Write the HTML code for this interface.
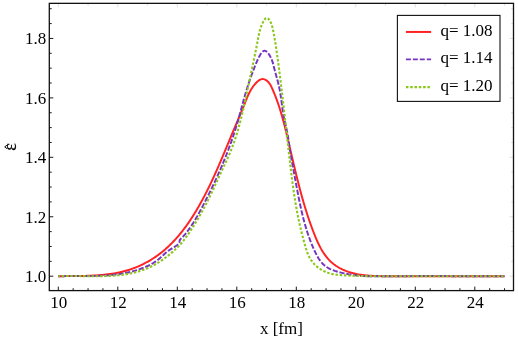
<!DOCTYPE html>
<html><head><meta charset="utf-8"><title>plot</title>
<style>
html,body{margin:0;padding:0;background:#fff;}
body{width:518px;height:339px;overflow:hidden;}
svg{display:block;will-change:transform;}
text{font-family:"Liberation Serif",serif;fill:#000;}
</style></head><body>
<svg width="518" height="339" viewBox="0 0 518 339">
<rect width="518" height="339" fill="#fff"/>
<g fill="none" stroke-linejoin="round">
<path d="M58.30 276.25 L59.27 276.24 L60.23 276.22 L61.20 276.20 L62.17 276.19 L63.14 276.17 L64.12 276.16 L65.09 276.15 L66.07 276.14 L67.04 276.13 L68.02 276.12 L69.00 276.11 L69.98 276.10 L70.96 276.09 L71.95 276.08 L72.93 276.07 L73.92 276.06 L74.90 276.05 L75.89 276.04 L76.88 276.02 L77.87 276.01 L78.86 276.00 L79.85 275.98 L80.84 275.96 L81.83 275.95 L82.82 275.92 L83.81 275.90 L84.80 275.88 L85.79 275.85 L86.79 275.82 L87.78 275.79 L88.77 275.75 L89.76 275.71 L90.75 275.67 L91.75 275.63 L92.74 275.58 L93.73 275.53 L94.72 275.47 L95.71 275.42 L96.70 275.35 L97.69 275.28 L98.68 275.21 L99.66 275.14 L100.65 275.06 L101.64 274.97 L102.62 274.88 L103.61 274.78 L104.59 274.68 L105.57 274.57 L106.55 274.46 L107.53 274.34 L108.51 274.22 L109.49 274.09 L110.47 273.95 L111.44 273.81 L112.41 273.66 L113.38 273.50 L114.35 273.34 L115.32 273.17 L116.29 272.99 L117.25 272.80 L118.21 272.61 L119.17 272.41 L120.13 272.20 L121.08 271.99 L122.04 271.76 L122.99 271.53 L123.94 271.29 L124.88 271.04 L125.83 270.78 L126.77 270.51 L127.71 270.23 L128.64 269.95 L129.58 269.65 L130.51 269.34 L131.44 269.03 L132.36 268.70 L133.28 268.37 L134.20 268.02 L135.12 267.67 L136.03 267.31 L136.94 266.94 L137.84 266.56 L138.74 266.17 L139.64 265.77 L140.54 265.36 L141.43 264.94 L142.31 264.52 L143.19 264.08 L144.07 263.64 L144.95 263.19 L145.82 262.73 L146.68 262.26 L147.54 261.79 L148.40 261.30 L149.25 260.81 L150.09 260.31 L150.94 259.80 L151.77 259.29 L152.60 258.76 L153.43 258.23 L154.25 257.69 L155.07 257.14 L155.88 256.59 L156.68 256.03 L157.48 255.46 L158.28 254.88 L159.06 254.30 L159.85 253.71 L160.62 253.11 L161.39 252.50 L162.16 251.89 L162.91 251.27 L163.67 250.65 L164.41 250.01 L165.16 249.38 L165.89 248.73 L166.62 248.08 L167.35 247.42 L168.07 246.76 L168.78 246.09 L169.49 245.41 L170.19 244.73 L170.89 244.05 L171.58 243.35 L172.27 242.65 L172.95 241.95 L173.63 241.24 L174.30 240.53 L174.96 239.81 L175.62 239.08 L176.28 238.35 L176.93 237.62 L177.58 236.88 L178.22 236.13 L178.86 235.38 L179.49 234.63 L180.12 233.87 L180.74 233.11 L181.36 232.34 L181.97 231.57 L182.58 230.79 L183.18 230.01 L183.78 229.23 L184.38 228.44 L184.97 227.65 L185.56 226.85 L186.14 226.06 L186.72 225.25 L187.29 224.45 L187.86 223.64 L188.43 222.83 L188.99 222.01 L189.55 221.19 L190.10 220.37 L190.65 219.55 L191.19 218.72 L191.74 217.89 L192.27 217.06 L192.81 216.22 L193.34 215.38 L193.87 214.54 L194.39 213.70 L194.91 212.86 L195.42 212.01 L195.94 211.16 L196.44 210.31 L196.95 209.46 L197.45 208.61 L197.95 207.75 L198.45 206.90 L198.94 206.04 L199.43 205.18 L199.91 204.32 L200.40 203.46 L200.88 202.59 L201.35 201.73 L201.82 200.86 L202.30 199.99 L202.76 199.13 L203.23 198.26 L203.69 197.39 L204.15 196.52 L204.61 195.64 L205.06 194.77 L205.51 193.89 L205.96 193.02 L206.40 192.14 L206.85 191.26 L207.29 190.39 L207.73 189.51 L208.16 188.63 L208.60 187.74 L209.03 186.86 L209.46 185.98 L209.89 185.09 L210.31 184.21 L210.73 183.32 L211.16 182.44 L211.57 181.55 L211.99 180.66 L212.41 179.77 L212.82 178.88 L213.23 177.99 L213.64 177.10 L214.05 176.20 L214.45 175.31 L214.86 174.42 L215.26 173.52 L215.66 172.63 L216.06 171.73 L216.46 170.84 L216.86 169.94 L217.26 169.04 L217.65 168.14 L218.04 167.24 L218.44 166.35 L218.83 165.45 L219.22 164.55 L219.60 163.64 L219.99 162.74 L220.38 161.84 L220.76 160.94 L221.15 160.04 L221.53 159.13 L221.92 158.23 L222.30 157.33 L222.68 156.42 L223.06 155.52 L223.44 154.61 L223.82 153.71 L224.20 152.80 L224.58 151.90 L224.96 150.99 L225.34 150.08 L225.71 149.18 L226.09 148.27 L226.47 147.36 L226.84 146.46 L227.22 145.55 L227.60 144.64 L227.97 143.73 L228.35 142.82 L228.73 141.92 L229.10 141.01 L229.48 140.10 L229.85 139.19 L230.23 138.28 L230.61 137.38 L230.99 136.47 L231.36 135.56 L231.74 134.65 L232.12 133.74 L232.50 132.84 L232.88 131.93 L233.26 131.02 L233.64 130.11 L234.02 129.20 L234.40 128.30 L234.78 127.39 L235.17 126.48 L235.55 125.58 L235.94 124.67 L236.32 123.76 L236.71 122.86 L237.10 121.95 L237.48 121.04 L237.87 120.14 L238.26 119.23 L238.64 118.33 L239.03 117.42 L239.42 116.51 L239.80 115.61 L240.19 114.70 L240.57 113.79 L240.95 112.89 L241.33 111.98 L241.71 111.07 L242.08 110.17 L242.46 109.26 L242.83 108.35 L243.20 107.44 L243.56 106.53 L243.93 105.62 L244.29 104.72 L244.64 103.81 L245.00 102.89 L245.35 101.98 L245.71 101.08 L246.06 100.17 L246.43 99.26 L246.80 98.35 L247.17 97.45 L247.56 96.55 L247.95 95.65 L248.36 94.75 L248.78 93.86 L249.22 92.96 L249.67 92.08 L250.14 91.20 L250.64 90.32 L251.15 89.45 L251.69 88.58 L252.25 87.72 L252.84 86.86 L253.46 86.01 L254.11 85.17 L254.79 84.33 L255.50 83.51 L256.23 82.73 L256.99 81.98 L257.77 81.29 L258.57 80.67 L259.38 80.13 L260.20 79.69 L261.03 79.36 L261.87 79.15 L262.71 79.07 L263.55 79.14 L264.38 79.34 L265.20 79.67 L266.00 80.12 L266.78 80.66 L267.53 81.30 L268.25 82.01 L268.92 82.78 L269.55 83.60 L270.13 84.46 L270.65 85.35 L271.13 86.26 L271.57 87.18 L271.99 88.10 L272.40 89.02 L272.81 89.95 L273.21 90.87 L273.61 91.79 L274.00 92.72 L274.38 93.65 L274.75 94.57 L275.12 95.50 L275.49 96.43 L275.84 97.35 L276.20 98.28 L276.54 99.21 L276.88 100.14 L277.22 101.07 L277.55 102.00 L277.88 102.93 L278.20 103.86 L278.51 104.79 L278.82 105.72 L279.13 106.65 L279.43 107.58 L279.73 108.52 L280.02 109.45 L280.31 110.38 L280.60 111.32 L280.88 112.25 L281.16 113.19 L281.43 114.12 L281.70 115.06 L281.97 115.99 L282.23 116.93 L282.49 117.87 L282.75 118.80 L283.01 119.74 L283.26 120.68 L283.51 121.62 L283.76 122.56 L284.01 123.50 L284.25 124.44 L284.49 125.38 L284.73 126.32 L284.97 127.26 L285.20 128.20 L285.44 129.14 L285.67 130.09 L285.90 131.03 L286.13 131.97 L286.36 132.92 L286.59 133.86 L286.82 134.81 L287.05 135.75 L287.28 136.70 L287.50 137.64 L287.73 138.59 L287.95 139.53 L288.18 140.48 L288.40 141.43 L288.62 142.38 L288.85 143.32 L289.07 144.27 L289.29 145.22 L289.52 146.17 L289.74 147.12 L289.96 148.07 L290.18 149.02 L290.40 149.97 L290.62 150.92 L290.85 151.87 L291.07 152.82 L291.29 153.77 L291.51 154.72 L291.73 155.67 L291.95 156.62 L292.18 157.57 L292.40 158.52 L292.62 159.47 L292.84 160.42 L293.07 161.37 L293.29 162.33 L293.51 163.28 L293.74 164.23 L293.96 165.18 L294.19 166.13 L294.42 167.09 L294.64 168.04 L294.87 168.99 L295.10 169.94 L295.33 170.89 L295.56 171.84 L295.79 172.80 L296.02 173.75 L296.25 174.70 L296.48 175.65 L296.72 176.60 L296.95 177.55 L297.19 178.50 L297.42 179.46 L297.66 180.41 L297.90 181.36 L298.14 182.31 L298.38 183.26 L298.62 184.21 L298.87 185.16 L299.11 186.11 L299.36 187.06 L299.61 188.01 L299.86 188.96 L300.11 189.91 L300.36 190.85 L300.61 191.80 L300.87 192.75 L301.13 193.70 L301.39 194.65 L301.65 195.59 L301.91 196.54 L302.17 197.49 L302.44 198.43 L302.71 199.38 L302.98 200.32 L303.25 201.27 L303.52 202.21 L303.80 203.16 L304.07 204.10 L304.35 205.05 L304.64 205.99 L304.92 206.93 L305.21 207.87 L305.49 208.81 L305.79 209.75 L306.08 210.70 L306.37 211.64 L306.67 212.57 L306.97 213.51 L307.27 214.45 L307.58 215.39 L307.89 216.33 L308.20 217.26 L308.51 218.20 L308.82 219.13 L309.14 220.07 L309.46 221.00 L309.79 221.94 L310.11 222.87 L310.44 223.80 L310.77 224.73 L311.11 225.66 L311.45 226.59 L311.79 227.52 L312.13 228.45 L312.48 229.38 L312.83 230.31 L313.18 231.23 L313.54 232.16 L313.90 233.08 L314.26 234.01 L314.63 234.93 L315.00 235.85 L315.37 236.77 L315.75 237.69 L316.14 238.60 L316.53 239.52 L316.92 240.42 L317.32 241.33 L317.73 242.23 L318.15 243.12 L318.57 244.01 L319.00 244.90 L319.44 245.77 L319.89 246.65 L320.35 247.51 L320.81 248.37 L321.29 249.22 L321.77 250.06 L322.27 250.89 L322.78 251.72 L323.30 252.53 L323.83 253.34 L324.37 254.13 L324.93 254.92 L325.50 255.69 L326.08 256.45 L326.67 257.20 L327.28 257.94 L327.91 258.67 L328.55 259.38 L329.20 260.08 L329.87 260.77 L330.56 261.44 L331.26 262.09 L331.98 262.73 L332.72 263.36 L333.47 263.97 L334.24 264.56 L335.04 265.14 L335.84 265.70 L336.67 266.24 L337.51 266.77 L338.36 267.28 L339.23 267.78 L340.11 268.26 L341.00 268.72 L341.90 269.17 L342.81 269.60 L343.74 270.01 L344.67 270.41 L345.61 270.79 L346.55 271.16 L347.51 271.51 L348.46 271.85 L349.43 272.17 L350.39 272.47 L351.36 272.76 L352.33 273.03 L353.30 273.29 L354.28 273.53 L355.25 273.76 L356.22 273.97 L357.19 274.17 L358.16 274.35 L359.13 274.53 L360.10 274.68 L361.07 274.83 L362.03 274.96 L363.00 275.09 L363.97 275.20 L364.93 275.31 L365.90 275.40 L366.87 275.49 L367.84 275.57 L368.80 275.64 L369.77 275.70 L370.74 275.76 L371.71 275.82 L372.68 275.86 L373.64 275.91 L374.62 275.95 L375.59 275.99 L376.56 276.02 L377.53 276.06 L378.51 276.09 L379.48 276.12 L380.46 276.15 L381.43 276.17 L382.41 276.20 L383.39 276.22 L384.37 276.24 L385.35 276.25 L386.33 276.25 L387.31 276.25 L388.29 276.25 L389.27 276.25 L390.25 276.25 L391.24 276.25 L392.22 276.25 L393.21 276.25 L394.19 276.25 L395.18 276.25 L396.16 276.25 L397.15 276.25 L398.13 276.25 L399.12 276.25 L400.11 276.25 L401.10 276.25 L402.08 276.25 L403.07 276.25 L404.06 276.25 L405.05 276.25 L406.04 276.25 L407.03 276.25 L408.02 276.25 L409.01 276.25 L410.00 276.25 L410.98 276.25 L411.97 276.25 L412.96 276.25 L413.95 276.25 L414.94 276.25 L415.93 276.25 L416.92 276.25 L417.91 276.25 L418.90 276.25 L419.89 276.25 L420.88 276.25 L421.86 276.24 L422.85 276.24 L423.84 276.23 L424.83 276.22 L425.81 276.22 L426.80 276.21 L427.79 276.21 L428.77 276.21 L429.76 276.20 L430.74 276.20 L431.73 276.20 L432.72 276.20 L433.70 276.19 L434.69 276.19 L435.67 276.19 L436.65 276.19 L437.64 276.19 L438.62 276.19 L439.61 276.19 L440.59 276.19 L441.57 276.19 L442.56 276.19 L443.54 276.19 L444.52 276.19 L445.50 276.19 L446.49 276.20 L447.47 276.20 L448.45 276.20 L449.43 276.20 L450.42 276.20 L451.40 276.21 L452.38 276.21 L453.36 276.21 L454.34 276.21 L455.32 276.22 L456.31 276.22 L457.29 276.22 L458.27 276.23 L459.25 276.23 L460.23 276.23 L461.21 276.24 L462.19 276.24 L463.18 276.24 L464.16 276.25 L465.14 276.25 L466.12 276.25 L467.10 276.25 L468.08 276.25 L469.07 276.25 L470.05 276.25 L471.03 276.25 L472.01 276.25 L472.99 276.25 L473.97 276.25 L474.96 276.25 L475.94 276.25 L476.92 276.25 L477.90 276.25 L478.89 276.25 L479.87 276.25 L480.85 276.25 L481.83 276.25 L482.82 276.25 L483.80 276.25 L484.78 276.25 L485.77 276.25 L486.75 276.25 L487.73 276.25 L488.72 276.25 L489.70 276.25 L490.69 276.25 L491.67 276.25 L492.66 276.25 L493.64 276.25 L494.63 276.25 L495.62 276.25 L496.60 276.25 L497.59 276.25 L498.57 276.25 L499.56 276.25 L500.55 276.25 L501.54 276.25 L502.52 276.25 L503.51 276.25 L504.50 276.25" stroke="#ff2222" stroke-width="1.95"/>
<path d="M58.30 276.25 L59.37 276.23 L60.43 276.21 L61.50 276.19 L62.57 276.17 L63.64 276.16 L64.71 276.15 L65.78 276.14 L66.85 276.13 L67.93 276.13 L69.00 276.13 L70.08 276.12 L71.15 276.12 L72.23 276.12 L73.31 276.12 L74.39 276.12 L75.47 276.12 L76.55 276.13 L77.63 276.13 L78.71 276.13 L79.79 276.13 L80.87 276.13 L81.96 276.13 L83.04 276.13 L84.12 276.12 L85.20 276.12 L86.29 276.11 L87.37 276.10 L88.45 276.09 L89.54 276.08 L90.62 276.07 L91.70 276.05 L92.79 276.03 L93.87 276.00 L94.95 275.98 L96.03 275.95 L97.11 275.91 L98.20 275.88 L99.28 275.83 L100.36 275.79 L101.43 275.74 L102.51 275.68 L103.59 275.62 L104.67 275.56 L105.74 275.49 L106.82 275.41 L107.89 275.33 L108.97 275.24 L110.04 275.15 L111.11 275.05 L112.18 274.94 L113.25 274.83 L114.32 274.71 L115.38 274.58 L116.45 274.45 L117.51 274.31 L118.58 274.16 L119.64 274.00 L120.70 273.84 L121.75 273.66 L122.81 273.48 L123.86 273.29 L124.91 273.09 L125.96 272.89 L127.01 272.67 L128.06 272.44 L129.10 272.21 L130.15 271.96 L131.19 271.70 L132.23 271.44 L133.26 271.16 L134.30 270.87 L135.33 270.57 L136.36 270.26 L137.38 269.94 L138.41 269.61 L139.43 269.27 L140.45 268.91 L141.46 268.54 L142.48 268.16 L143.48 267.77 L144.49 267.37 L145.48 266.95 L146.47 266.51 L147.46 266.06 L148.43 265.60 L149.40 265.12 L150.35 264.63 L151.30 264.12 L152.23 263.60 L153.16 263.06 L154.06 262.50 L154.96 261.93 L155.84 261.33 L156.71 260.72 L157.56 260.09 L158.39 259.45 L159.21 258.78 L160.01 258.10 L160.79 257.39 L161.57 256.68 L162.34 255.95 L163.12 255.22 L163.91 254.49 L164.71 253.75 L165.53 253.02 L166.37 252.30 L167.25 251.59 L168.17 250.89 L169.12 250.21 L170.13 249.55 L171.17 248.91 L172.22 248.29 L173.27 247.67 L174.30 247.05 L175.29 246.44 L176.21 245.81 L177.06 245.18 L177.81 244.53 L178.45 243.85 L178.95 243.15 L179.29 242.42 L179.47 241.66 L179.55 240.87 L179.79 240.11 L180.27 239.40 L180.91 238.71 L181.61 238.01 L182.30 237.30 L182.99 236.58 L183.66 235.84 L184.33 235.09 L185.00 234.32 L185.65 233.53 L186.31 232.74 L186.95 231.93 L187.59 231.10 L188.22 230.27 L188.84 229.42 L189.46 228.57 L190.07 227.70 L190.68 226.82 L191.28 225.93 L191.88 225.04 L192.47 224.13 L193.06 223.22 L193.64 222.29 L194.21 221.36 L194.78 220.43 L195.35 219.49 L195.91 218.54 L196.47 217.58 L197.02 216.62 L197.57 215.66 L198.12 214.69 L198.66 213.72 L199.20 212.75 L199.73 211.77 L200.26 210.79 L200.79 209.81 L201.31 208.83 L201.83 207.85 L202.35 206.87 L202.86 205.88 L203.38 204.90 L203.89 203.92 L204.39 202.94 L204.90 201.96 L205.40 200.99 L205.90 200.01 L206.40 199.03 L206.89 198.06 L207.39 197.08 L207.88 196.11 L208.36 195.14 L208.85 194.16 L209.33 193.19 L209.81 192.22 L210.29 191.25 L210.76 190.28 L211.23 189.31 L211.71 188.33 L212.17 187.36 L212.64 186.39 L213.10 185.42 L213.56 184.45 L214.02 183.48 L214.48 182.51 L214.93 181.54 L215.38 180.56 L215.83 179.59 L216.28 178.62 L216.72 177.65 L217.16 176.67 L217.60 175.70 L218.04 174.72 L218.47 173.75 L218.91 172.77 L219.34 171.79 L219.76 170.82 L220.19 169.84 L220.61 168.86 L221.03 167.87 L221.45 166.89 L221.87 165.91 L222.29 164.92 L222.70 163.94 L223.11 162.95 L223.52 161.96 L223.92 160.97 L224.33 159.98 L224.73 158.99 L225.13 157.99 L225.52 157.00 L225.92 156.00 L226.31 155.00 L226.70 154.00 L227.09 152.99 L227.48 151.99 L227.86 150.98 L228.24 149.97 L228.62 148.97 L228.99 147.96 L229.37 146.94 L229.74 145.93 L230.11 144.92 L230.47 143.90 L230.84 142.89 L231.20 141.87 L231.56 140.85 L231.91 139.83 L232.27 138.81 L232.62 137.79 L232.96 136.76 L233.31 135.74 L233.65 134.72 L233.99 133.69 L234.32 132.67 L234.66 131.64 L234.98 130.61 L235.31 129.58 L235.63 128.56 L235.95 127.53 L236.27 126.50 L236.59 125.47 L236.90 124.44 L237.20 123.41 L237.51 122.37 L237.81 121.34 L238.11 120.31 L238.40 119.28 L238.69 118.25 L238.98 117.21 L239.27 116.18 L239.55 115.15 L239.83 114.11 L240.11 113.08 L240.39 112.05 L240.67 111.01 L240.95 109.98 L241.23 108.94 L241.50 107.91 L241.78 106.87 L242.06 105.84 L242.34 104.80 L242.62 103.77 L242.90 102.73 L243.18 101.70 L243.46 100.66 L243.74 99.63 L244.03 98.59 L244.32 97.56 L244.61 96.52 L244.91 95.49 L245.21 94.45 L245.51 93.42 L245.82 92.38 L246.13 91.34 L246.44 90.31 L246.76 89.27 L247.09 88.24 L247.42 87.20 L247.75 86.17 L248.09 85.14 L248.43 84.10 L248.78 83.07 L249.13 82.04 L249.49 81.02 L249.84 79.99 L250.20 78.97 L250.56 77.96 L250.92 76.94 L251.29 75.94 L251.65 74.93 L252.02 73.93 L252.38 72.94 L252.75 71.96 L253.12 70.98 L253.48 70.00 L253.84 69.04 L254.20 68.08 L254.57 67.13 L254.93 66.18 L255.31 65.22 L255.69 64.27 L256.09 63.30 L256.51 62.32 L256.95 61.32 L257.41 60.31 L257.90 59.27 L258.42 58.21 L258.98 57.11 L259.58 55.99 L260.21 54.86 L260.88 53.78 L261.58 52.79 L262.31 51.93 L263.06 51.27 L263.84 50.84 L264.63 50.70 L265.44 50.87 L266.25 51.30 L267.05 51.96 L267.83 52.81 L268.59 53.79 L269.30 54.86 L269.96 55.98 L270.56 57.11 L271.09 58.21 L271.57 59.28 L271.98 60.33 L272.36 61.37 L272.69 62.39 L272.99 63.39 L273.26 64.39 L273.52 65.38 L273.76 66.38 L274.00 67.37 L274.24 68.36 L274.49 69.36 L274.75 70.38 L275.02 71.39 L275.30 72.42 L275.59 73.45 L275.88 74.48 L276.17 75.52 L276.46 76.57 L276.76 77.62 L277.05 78.67 L277.34 79.73 L277.62 80.79 L277.90 81.85 L278.17 82.91 L278.43 83.97 L278.69 85.04 L278.93 86.10 L279.16 87.16 L279.37 88.22 L279.58 89.28 L279.78 90.35 L279.97 91.41 L280.16 92.47 L280.33 93.53 L280.50 94.58 L280.67 95.64 L280.83 96.70 L280.98 97.76 L281.13 98.81 L281.28 99.87 L281.42 100.92 L281.57 101.97 L281.71 103.02 L281.85 104.07 L281.99 105.12 L282.13 106.17 L282.28 107.22 L282.42 108.26 L282.57 109.31 L282.73 110.35 L282.89 111.39 L283.05 112.43 L283.22 113.47 L283.39 114.50 L283.57 115.54 L283.76 116.57 L283.96 117.60 L284.17 118.63 L284.38 119.66 L284.60 120.68 L284.83 121.71 L285.06 122.73 L285.30 123.76 L285.53 124.78 L285.77 125.81 L286.01 126.83 L286.24 127.86 L286.47 128.89 L286.70 129.91 L286.93 130.95 L287.14 131.98 L287.35 133.02 L287.55 134.05 L287.74 135.10 L287.93 136.14 L288.10 137.19 L288.26 138.24 L288.42 139.29 L288.58 140.34 L288.73 141.40 L288.87 142.45 L289.02 143.51 L289.16 144.57 L289.30 145.62 L289.44 146.68 L289.59 147.73 L289.73 148.79 L289.89 149.84 L290.04 150.89 L290.20 151.94 L290.37 152.99 L290.54 154.03 L290.72 155.07 L290.90 156.11 L291.09 157.15 L291.27 158.19 L291.47 159.23 L291.66 160.27 L291.85 161.31 L292.05 162.34 L292.25 163.38 L292.45 164.42 L292.64 165.46 L292.84 166.50 L293.04 167.54 L293.24 168.58 L293.43 169.62 L293.63 170.66 L293.82 171.70 L294.02 172.75 L294.21 173.79 L294.41 174.84 L294.60 175.89 L294.79 176.93 L294.98 177.98 L295.18 179.03 L295.37 180.08 L295.56 181.13 L295.76 182.18 L295.95 183.23 L296.14 184.28 L296.34 185.33 L296.53 186.38 L296.73 187.43 L296.93 188.48 L297.12 189.53 L297.32 190.58 L297.52 191.63 L297.72 192.68 L297.93 193.73 L298.13 194.78 L298.34 195.83 L298.54 196.87 L298.75 197.92 L298.96 198.97 L299.18 200.02 L299.39 201.06 L299.61 202.11 L299.83 203.15 L300.05 204.20 L300.27 205.24 L300.50 206.28 L300.72 207.32 L300.96 208.36 L301.19 209.40 L301.43 210.44 L301.67 211.48 L301.91 212.51 L302.15 213.55 L302.40 214.58 L302.66 215.61 L302.91 216.64 L303.17 217.67 L303.43 218.70 L303.70 219.73 L303.97 220.75 L304.25 221.77 L304.52 222.79 L304.81 223.82 L305.10 224.84 L305.39 225.85 L305.69 226.87 L305.99 227.89 L306.30 228.90 L306.61 229.92 L306.93 230.93 L307.26 231.95 L307.59 232.96 L307.92 233.97 L308.27 234.99 L308.62 236.00 L308.97 237.01 L309.34 238.02 L309.71 239.03 L310.08 240.04 L310.47 241.05 L310.86 242.06 L311.26 243.07 L311.66 244.08 L312.08 245.09 L312.50 246.10 L312.93 247.11 L313.37 248.12 L313.82 249.13 L314.28 250.14 L314.74 251.16 L315.22 252.17 L315.71 253.17 L316.21 254.17 L316.72 255.15 L317.25 256.13 L317.80 257.09 L318.36 258.03 L318.95 258.96 L319.56 259.86 L320.18 260.74 L320.84 261.59 L321.51 262.42 L322.22 263.21 L322.95 263.97 L323.70 264.70 L324.49 265.38 L325.31 266.03 L326.15 266.65 L327.02 267.23 L327.92 267.78 L328.83 268.29 L329.77 268.78 L330.72 269.24 L331.70 269.67 L332.69 270.08 L333.69 270.46 L334.71 270.83 L335.74 271.17 L336.77 271.49 L337.82 271.80 L338.87 272.09 L339.93 272.37 L340.99 272.63 L342.05 272.88 L343.11 273.13 L344.17 273.36 L345.24 273.58 L346.30 273.80 L347.37 274.00 L348.43 274.20 L349.50 274.38 L350.56 274.56 L351.63 274.73 L352.70 274.89 L353.76 275.04 L354.83 275.18 L355.90 275.32 L356.97 275.45 L358.04 275.57 L359.11 275.68 L360.18 275.79 L361.25 275.89 L362.32 275.98 L363.39 276.06 L364.46 276.14 L365.54 276.22 L366.61 276.25 L367.68 276.25 L368.76 276.25 L369.83 276.25 L370.90 276.25 L371.98 276.25 L373.05 276.25 L374.13 276.25 L375.20 276.25 L376.28 276.25 L377.35 276.25 L378.43 276.25 L379.50 276.25 L380.58 276.25 L381.66 276.25 L382.73 276.25 L383.81 276.25 L384.89 276.25 L385.97 276.25 L387.04 276.25 L388.12 276.25 L389.20 276.25 L390.28 276.25 L391.35 276.25 L392.43 276.25 L393.51 276.25 L394.59 276.25 L395.67 276.25 L396.75 276.25 L397.82 276.25 L398.90 276.25 L399.98 276.25 L401.06 276.25 L402.14 276.25 L403.22 276.25 L404.30 276.25 L405.37 276.25 L406.45 276.23 L407.53 276.20 L408.61 276.18 L409.69 276.16 L410.77 276.14 L411.85 276.12 L412.92 276.10 L414.00 276.08 L415.08 276.07 L416.16 276.06 L417.24 276.05 L418.31 276.03 L419.39 276.03 L420.47 276.02 L421.55 276.01 L422.63 276.00 L423.70 276.00 L424.78 276.00 L425.86 276.00 L426.94 275.99 L428.01 275.99 L429.09 275.99 L430.17 276.00 L431.25 276.00 L432.32 276.00 L433.40 276.01 L434.48 276.01 L435.56 276.02 L436.63 276.02 L437.71 276.03 L438.79 276.04 L439.87 276.05 L440.94 276.06 L442.02 276.07 L443.10 276.08 L444.17 276.09 L445.25 276.10 L446.33 276.11 L447.41 276.12 L448.48 276.13 L449.56 276.15 L450.64 276.16 L451.71 276.17 L452.79 276.18 L453.87 276.20 L454.94 276.21 L456.02 276.22 L457.10 276.23 L458.17 276.25 L459.25 276.25 L460.33 276.25 L461.41 276.25 L462.48 276.25 L463.56 276.25 L464.64 276.25 L465.71 276.25 L466.79 276.25 L467.87 276.25 L468.94 276.25 L470.02 276.25 L471.10 276.25 L472.18 276.25 L473.25 276.25 L474.33 276.25 L475.41 276.25 L476.48 276.25 L477.56 276.25 L478.64 276.25 L479.72 276.25 L480.79 276.25 L481.87 276.25 L482.95 276.25 L484.02 276.25 L485.10 276.25 L486.18 276.25 L487.26 276.25 L488.33 276.25 L489.41 276.25 L490.49 276.25 L491.57 276.25 L492.64 276.25 L493.72 276.25 L494.80 276.25 L495.88 276.25 L496.95 276.25 L498.03 276.25 L499.11 276.25 L500.19 276.25 L501.27 276.25 L502.34 276.25 L503.42 276.25 L504.50 276.24" stroke="#7634c0" stroke-width="1.95" stroke-dasharray="5.2 1.8" stroke-dashoffset="2.93"/>
<path d="M58.31 276.25 L59.46 276.21 L60.61 276.16 L61.77 276.13 L62.92 276.10 L64.09 276.07 L65.25 276.05 L66.42 276.03 L67.59 276.02 L68.76 276.01 L69.93 276.01 L71.11 276.00 L72.29 276.01 L73.47 276.01 L74.65 276.02 L75.83 276.03 L77.02 276.04 L78.20 276.05 L79.39 276.07 L80.58 276.08 L81.77 276.10 L82.96 276.11 L84.15 276.13 L85.34 276.14 L86.54 276.16 L87.73 276.17 L88.93 276.18 L90.12 276.20 L91.32 276.21 L92.51 276.21 L93.71 276.22 L94.90 276.22 L96.10 276.22 L97.30 276.21 L98.49 276.21 L99.68 276.19 L100.88 276.18 L102.07 276.16 L103.26 276.13 L104.46 276.10 L105.65 276.06 L106.84 276.02 L108.02 275.97 L109.21 275.91 L110.40 275.85 L111.58 275.78 L112.76 275.71 L113.94 275.62 L115.12 275.53 L116.30 275.43 L117.47 275.32 L118.65 275.20 L119.82 275.07 L120.98 274.93 L122.15 274.79 L123.31 274.63 L124.47 274.46 L125.63 274.28 L126.78 274.09 L127.93 273.89 L129.08 273.68 L130.23 273.45 L131.37 273.21 L132.51 272.96 L133.64 272.70 L134.77 272.42 L135.90 272.13 L137.02 271.83 L138.14 271.51 L139.26 271.18 L140.37 270.83 L141.47 270.47 L142.58 270.09 L143.67 269.69 L144.77 269.28 L145.86 268.86 L146.94 268.41 L148.02 267.95 L149.09 267.47 L150.16 266.98 L151.22 266.46 L152.28 265.93 L153.33 265.39 L154.37 264.83 L155.41 264.25 L156.44 263.66 L157.47 263.05 L158.49 262.43 L159.49 261.80 L160.50 261.15 L161.49 260.50 L162.47 259.83 L163.45 259.15 L164.41 258.46 L165.37 257.76 L166.32 257.05 L167.26 256.33 L168.18 255.61 L169.10 254.87 L170.00 254.13 L170.90 253.39 L171.78 252.63 L172.65 251.87 L173.51 251.11 L174.36 250.34 L175.19 249.57 L176.01 248.79 L176.82 248.02 L177.61 247.24 L178.39 246.45 L179.16 245.67 L179.91 244.88 L180.64 244.09 L181.34 243.28 L182.04 242.46 L182.71 241.63 L183.38 240.79 L184.03 239.94 L184.68 239.08 L185.33 238.21 L185.97 237.33 L186.62 236.43 L187.26 235.53 L187.90 234.62 L188.54 233.69 L189.17 232.76 L189.81 231.82 L190.44 230.88 L191.07 229.92 L191.70 228.95 L192.33 227.98 L192.95 227.00 L193.58 226.02 L194.20 225.02 L194.82 224.02 L195.43 223.01 L196.04 222.00 L196.65 220.98 L197.26 219.96 L197.87 218.93 L198.47 217.90 L199.06 216.86 L199.66 215.82 L200.25 214.77 L200.84 213.72 L201.43 212.67 L202.01 211.61 L202.58 210.55 L203.16 209.49 L203.73 208.43 L204.30 207.36 L204.86 206.29 L205.42 205.22 L205.97 204.15 L206.52 203.08 L207.07 202.01 L207.61 200.94 L208.15 199.86 L208.68 198.79 L209.21 197.72 L209.73 196.65 L210.25 195.58 L210.77 194.51 L211.28 193.44 L211.79 192.38 L212.29 191.31 L212.79 190.24 L213.29 189.18 L213.79 188.11 L214.28 187.05 L214.77 185.98 L215.26 184.91 L215.75 183.85 L216.24 182.79 L216.72 181.72 L217.21 180.66 L217.69 179.59 L218.18 178.53 L218.67 177.46 L219.15 176.40 L219.64 175.33 L220.13 174.27 L220.62 173.20 L221.11 172.13 L221.60 171.07 L222.09 170.00 L222.59 168.93 L223.09 167.86 L223.59 166.79 L224.10 165.72 L224.61 164.65 L225.12 163.58 L225.63 162.51 L226.14 161.43 L226.65 160.36 L227.16 159.28 L227.65 158.20 L228.15 157.12 L228.63 156.03 L229.10 154.95 L229.57 153.86 L230.03 152.77 L230.48 151.67 L230.93 150.58 L231.36 149.48 L231.79 148.38 L232.22 147.28 L232.63 146.18 L233.04 145.07 L233.44 143.97 L233.84 142.86 L234.22 141.75 L234.61 140.64 L234.98 139.52 L235.35 138.41 L235.72 137.29 L236.08 136.17 L236.43 135.05 L236.78 133.93 L237.12 132.80 L237.46 131.68 L237.79 130.55 L238.12 129.42 L238.44 128.29 L238.76 127.16 L239.07 126.03 L239.38 124.89 L239.68 123.76 L239.98 122.62 L240.28 121.49 L240.57 120.35 L240.86 119.21 L241.15 118.07 L241.43 116.92 L241.71 115.78 L241.99 114.64 L242.26 113.49 L242.53 112.35 L242.80 111.20 L243.07 110.05 L243.33 108.90 L243.59 107.75 L243.85 106.60 L244.11 105.45 L244.36 104.30 L244.62 103.15 L244.87 102.00 L245.12 100.84 L245.37 99.69 L245.62 98.54 L245.86 97.38 L246.11 96.23 L246.36 95.07 L246.60 93.91 L246.85 92.76 L247.09 91.60 L247.34 90.44 L247.58 89.29 L247.82 88.13 L248.07 86.97 L248.32 85.81 L248.56 84.66 L248.81 83.50 L249.06 82.34 L249.30 81.18 L249.55 80.02 L249.80 78.87 L250.05 77.71 L250.30 76.55 L250.55 75.39 L250.80 74.23 L251.05 73.08 L251.29 71.92 L251.54 70.76 L251.79 69.60 L252.04 68.45 L252.29 67.29 L252.53 66.13 L252.78 64.98 L253.03 63.82 L253.27 62.66 L253.51 61.51 L253.76 60.35 L254.00 59.20 L254.24 58.04 L254.48 56.89 L254.72 55.74 L254.96 54.58 L255.19 53.43 L255.43 52.28 L255.66 51.13 L255.89 49.98 L256.12 48.83 L256.35 47.68 L256.57 46.53 L256.79 45.38 L257.02 44.23 L257.24 43.08 L257.45 41.94 L257.67 40.79 L257.88 39.64 L258.09 38.50 L258.31 37.35 L258.53 36.21 L258.76 35.06 L259.00 33.91 L259.26 32.76 L259.54 31.61 L259.85 30.45 L260.18 29.29 L260.55 28.12 L260.95 26.95 L261.39 25.77 L261.88 24.59 L262.41 23.39 L262.99 22.19 L263.62 20.99 L264.31 19.86 L265.03 18.90 L265.79 18.21 L266.57 17.88 L267.37 18.01 L268.17 18.55 L268.95 19.39 L269.68 20.46 L270.35 21.64 L270.93 22.85 L271.42 24.06 L271.85 25.26 L272.21 26.45 L272.52 27.64 L272.79 28.82 L273.04 29.99 L273.28 31.17 L273.51 32.34 L273.73 33.50 L273.95 34.66 L274.16 35.82 L274.37 36.98 L274.57 38.14 L274.76 39.30 L274.95 40.45 L275.14 41.61 L275.33 42.76 L275.51 43.92 L275.69 45.07 L275.86 46.23 L276.04 47.39 L276.22 48.55 L276.39 49.72 L276.56 50.88 L276.73 52.04 L276.90 53.21 L277.07 54.38 L277.23 55.54 L277.40 56.71 L277.56 57.88 L277.72 59.05 L277.88 60.22 L278.04 61.39 L278.20 62.56 L278.36 63.73 L278.51 64.90 L278.67 66.07 L278.82 67.24 L278.98 68.41 L279.13 69.58 L279.28 70.75 L279.43 71.92 L279.58 73.09 L279.73 74.26 L279.88 75.43 L280.03 76.59 L280.17 77.76 L280.32 78.93 L280.47 80.10 L280.61 81.27 L280.76 82.43 L280.90 83.60 L281.04 84.77 L281.18 85.94 L281.33 87.10 L281.47 88.27 L281.61 89.44 L281.75 90.60 L281.89 91.77 L282.03 92.94 L282.17 94.10 L282.30 95.27 L282.44 96.43 L282.58 97.60 L282.72 98.76 L282.85 99.93 L282.99 101.09 L283.12 102.26 L283.26 103.42 L283.39 104.59 L283.53 105.75 L283.66 106.92 L283.79 108.08 L283.93 109.24 L284.06 110.41 L284.19 111.57 L284.33 112.74 L284.46 113.90 L284.59 115.06 L284.72 116.23 L284.86 117.39 L284.99 118.55 L285.12 119.72 L285.25 120.88 L285.38 122.04 L285.51 123.20 L285.64 124.37 L285.78 125.53 L285.91 126.69 L286.04 127.86 L286.17 129.02 L286.30 130.18 L286.43 131.34 L286.56 132.51 L286.69 133.67 L286.82 134.83 L286.96 135.99 L287.09 137.16 L287.22 138.32 L287.35 139.48 L287.48 140.64 L287.61 141.81 L287.75 142.97 L287.88 144.13 L288.01 145.29 L288.14 146.45 L288.28 147.62 L288.41 148.78 L288.54 149.94 L288.68 151.10 L288.81 152.27 L288.95 153.43 L289.08 154.59 L289.22 155.75 L289.35 156.92 L289.49 158.08 L289.63 159.24 L289.76 160.40 L289.90 161.57 L290.04 162.73 L290.18 163.89 L290.31 165.06 L290.45 166.22 L290.59 167.38 L290.73 168.54 L290.88 169.71 L291.02 170.87 L291.16 172.03 L291.30 173.20 L291.45 174.36 L291.59 175.52 L291.74 176.69 L291.89 177.85 L292.03 179.01 L292.18 180.17 L292.34 181.34 L292.49 182.50 L292.64 183.66 L292.80 184.82 L292.96 185.98 L293.12 187.15 L293.28 188.31 L293.44 189.47 L293.61 190.63 L293.77 191.79 L293.94 192.95 L294.11 194.11 L294.29 195.26 L294.46 196.42 L294.64 197.58 L294.82 198.74 L295.01 199.89 L295.19 201.05 L295.38 202.20 L295.57 203.36 L295.77 204.51 L295.97 205.67 L296.17 206.82 L296.37 207.97 L296.58 209.12 L296.79 210.27 L297.00 211.42 L297.22 212.57 L297.44 213.72 L297.66 214.86 L297.89 216.01 L298.12 217.16 L298.36 218.30 L298.60 219.44 L298.84 220.59 L299.09 221.73 L299.34 222.87 L299.59 224.01 L299.85 225.15 L300.11 226.29 L300.38 227.43 L300.65 228.58 L300.92 229.72 L301.20 230.86 L301.48 232.00 L301.77 233.14 L302.06 234.28 L302.35 235.42 L302.65 236.56 L302.95 237.71 L303.26 238.85 L303.57 240.00 L303.88 241.14 L304.20 242.29 L304.52 243.44 L304.85 244.59 L305.18 245.74 L305.51 246.89 L305.85 248.04 L306.20 249.20 L306.56 250.35 L306.93 251.49 L307.33 252.62 L307.75 253.74 L308.20 254.84 L308.68 255.92 L309.20 256.98 L309.76 258.02 L310.36 259.03 L311.00 260.02 L311.67 260.98 L312.38 261.91 L313.13 262.81 L313.90 263.69 L314.71 264.53 L315.55 265.35 L316.42 266.13 L317.32 266.89 L318.24 267.61 L319.19 268.31 L320.16 268.97 L321.15 269.59 L322.16 270.19 L323.20 270.74 L324.25 271.27 L325.32 271.76 L326.40 272.21 L327.50 272.62 L328.62 273.00 L329.74 273.34 L330.87 273.64 L332.02 273.91 L333.17 274.15 L334.33 274.36 L335.50 274.54 L336.67 274.70 L337.85 274.83 L339.03 274.95 L340.22 275.05 L341.41 275.14 L342.60 275.22 L343.79 275.29 L344.99 275.35 L346.18 275.42 L347.37 275.47 L348.56 275.53 L349.75 275.58 L350.94 275.63 L352.12 275.68 L353.31 275.73 L354.50 275.77 L355.68 275.81 L356.87 275.85 L358.05 275.88 L359.24 275.92 L360.42 275.95 L361.60 275.98 L362.79 276.01 L363.97 276.03 L365.15 276.06 L366.33 276.08 L367.51 276.10 L368.69 276.12 L369.87 276.14 L371.05 276.15 L372.23 276.17 L373.41 276.18 L374.59 276.19 L375.77 276.20 L376.95 276.21 L378.13 276.22 L379.31 276.23 L380.48 276.23 L381.66 276.24 L382.84 276.25 L384.02 276.25 L385.20 276.25 L386.37 276.25 L387.55 276.25 L388.73 276.25 L389.91 276.25 L391.09 276.25 L392.27 276.25 L393.45 276.25 L394.62 276.25 L395.80 276.25 L396.98 276.25 L398.16 276.25 L399.34 276.25 L400.52 276.25 L401.70 276.25 L402.88 276.25 L404.06 276.25 L405.24 276.25 L406.42 276.25 L407.60 276.25 L408.78 276.25 L409.96 276.25 L411.14 276.25 L412.33 276.25 L413.51 276.25 L414.69 276.25 L415.87 276.25 L417.05 276.25 L418.23 276.25 L419.41 276.25 L420.59 276.25 L421.78 276.25 L422.96 276.25 L424.14 276.25 L425.32 276.25 L426.50 276.25 L427.69 276.25 L428.87 276.25 L430.05 276.25 L431.23 276.25 L432.41 276.25 L433.60 276.25 L434.78 276.25 L435.96 276.25 L437.14 276.25 L438.33 276.25 L439.51 276.25 L440.69 276.25 L441.87 276.25 L443.06 276.25 L444.24 276.25 L445.42 276.25 L446.60 276.25 L447.79 276.25 L448.97 276.25 L450.15 276.25 L451.33 276.25 L452.52 276.25 L453.70 276.25 L454.88 276.24 L456.06 276.24 L457.25 276.24 L458.43 276.24 L459.61 276.24 L460.80 276.24 L461.98 276.24 L463.16 276.24 L464.34 276.24 L465.52 276.23 L466.71 276.23 L467.89 276.23 L469.07 276.23 L470.25 276.23 L471.44 276.23 L472.62 276.23 L473.80 276.23 L474.98 276.23 L476.16 276.23 L477.35 276.23 L478.53 276.23 L479.71 276.23 L480.89 276.23 L482.07 276.23 L483.25 276.23 L484.43 276.23 L485.62 276.23 L486.80 276.23 L487.98 276.23 L489.16 276.23 L490.34 276.23 L491.52 276.23 L492.70 276.23 L493.88 276.23 L495.06 276.24 L496.24 276.24 L497.42 276.24 L498.60 276.24 L499.78 276.24 L500.96 276.24 L502.14 276.25 L503.32 276.25 L504.50 276.25" stroke="#8cc81c" stroke-width="2.1" stroke-dasharray="2.5 1.75" stroke-dashoffset="0.72"/>
</g>
<path d="M58.30 3.35 v4.00 M88.05 3.35 v2.40 M117.80 3.35 v4.00 M147.55 3.35 v2.40 M177.30 3.35 v4.00 M207.05 3.35 v2.40 M236.80 3.35 v4.00 M266.55 3.35 v2.40 M296.30 3.35 v4.00 M326.05 3.35 v2.40 M355.80 3.35 v4.00 M385.55 3.35 v2.40 M415.30 3.35 v4.00 M445.05 3.35 v2.40 M474.80 3.35 v4.00 M504.55 3.35 v2.40 M513.50 276.20 h-4.00 M513.50 261.34 h-2.40 M513.50 246.48 h-2.40 M513.50 231.62 h-2.40 M513.50 216.76 h-4.00 M513.50 201.90 h-2.40 M513.50 187.04 h-2.40 M513.50 172.18 h-2.40 M513.50 157.32 h-4.00 M513.50 142.46 h-2.40 M513.50 127.60 h-2.40 M513.50 112.74 h-2.40 M513.50 97.88 h-4.00 M513.50 83.02 h-2.40 M513.50 68.16 h-2.40 M513.50 53.30 h-2.40 M513.50 38.44 h-4.00 M513.50 23.58 h-2.40 M513.50 8.72 h-2.40" stroke="#d8d8d8" stroke-width="0.8" fill="none"/>
<path d="M58.30 290.60 v-4.00 M73.17 290.60 v-2.40 M88.05 290.60 v-2.40 M102.92 290.60 v-2.40 M117.80 290.60 v-4.00 M132.68 290.60 v-2.40 M147.55 290.60 v-2.40 M162.43 290.60 v-2.40 M177.30 290.60 v-4.00 M192.18 290.60 v-2.40 M207.05 290.60 v-2.40 M221.93 290.60 v-2.40 M236.80 290.60 v-4.00 M251.68 290.60 v-2.40 M266.55 290.60 v-2.40 M281.43 290.60 v-2.40 M296.30 290.60 v-4.00 M311.18 290.60 v-2.40 M326.05 290.60 v-2.40 M340.93 290.60 v-2.40 M355.80 290.60 v-4.00 M370.68 290.60 v-2.40 M385.55 290.60 v-2.40 M400.43 290.60 v-2.40 M415.30 290.60 v-4.00 M430.18 290.60 v-2.40 M445.05 290.60 v-2.40 M459.93 290.60 v-2.40 M474.80 290.60 v-4.00 M489.68 290.60 v-2.40 M504.55 290.60 v-2.40 M49.30 276.20 h4.00 M49.30 261.34 h2.40 M49.30 246.48 h2.40 M49.30 231.62 h2.40 M49.30 216.76 h4.00 M49.30 201.90 h2.40 M49.30 187.04 h2.40 M49.30 172.18 h2.40 M49.30 157.32 h4.00 M49.30 142.46 h2.40 M49.30 127.60 h2.40 M49.30 112.74 h2.40 M49.30 97.88 h4.00 M49.30 83.02 h2.40 M49.30 68.16 h2.40 M49.30 53.30 h2.40 M49.30 38.44 h4.00 M49.30 23.58 h2.40 M49.30 8.72 h2.40" stroke="#1a1a1a" stroke-width="1" fill="none"/>
<rect x="49.30" y="3.35" width="464.20" height="287.25" fill="none" stroke="#111" stroke-width="1.3"/>
<g font-size="17px">
<text x="46.3" y="282.20" text-anchor="end">1.0</text>
<text x="46.3" y="222.76" text-anchor="end">1.2</text>
<text x="46.3" y="163.32" text-anchor="end">1.4</text>
<text x="46.3" y="103.88" text-anchor="end">1.6</text>
<text x="46.3" y="44.44" text-anchor="end">1.8</text>
<text x="58.70" y="308.3" text-anchor="middle">10</text>
<text x="118.20" y="308.3" text-anchor="middle">12</text>
<text x="177.70" y="308.3" text-anchor="middle">14</text>
<text x="237.20" y="308.3" text-anchor="middle">16</text>
<text x="296.70" y="308.3" text-anchor="middle">18</text>
<text x="356.20" y="308.3" text-anchor="middle">20</text>
<text x="415.70" y="308.3" text-anchor="middle">22</text>
<text x="475.20" y="308.3" text-anchor="middle">24</text>
<text x="281.4" y="334" text-anchor="middle">x [fm]</text>
<text transform="translate(15.9 146.9) rotate(-90)" text-anchor="middle" font-size="18px" stroke="#000" stroke-width="0.25">ε</text>
</g>
<path d="M7.0 145.1 L4.7 146.9 L7.0 148.7" fill="none" stroke="#111" stroke-width="1"/>
<rect x="397.4" y="15.4" width="102.6" height="86" fill="#fff" stroke="#111" stroke-width="1.1"/>
<g fill="none">
<path d="M405.9 31.95 H431.1" stroke="#ff2222" stroke-width="2"/>
<path d="M405.9 59.4 H431.1" stroke="#7634c0" stroke-width="1.6" stroke-dasharray="5 1.95"/>
<path d="M405.9 87.1 H430.2" stroke="#8cc81c" stroke-width="2.1" stroke-dasharray="2.55 1.75"/>
</g>
<g font-size="17px">
<text x="440.5" y="35.60">q= 1.08</text>
<text x="440.5" y="63.30">q= 1.14</text>
<text x="440.5" y="91.00">q= 1.20</text>
</g>
</svg>
</body></html>
